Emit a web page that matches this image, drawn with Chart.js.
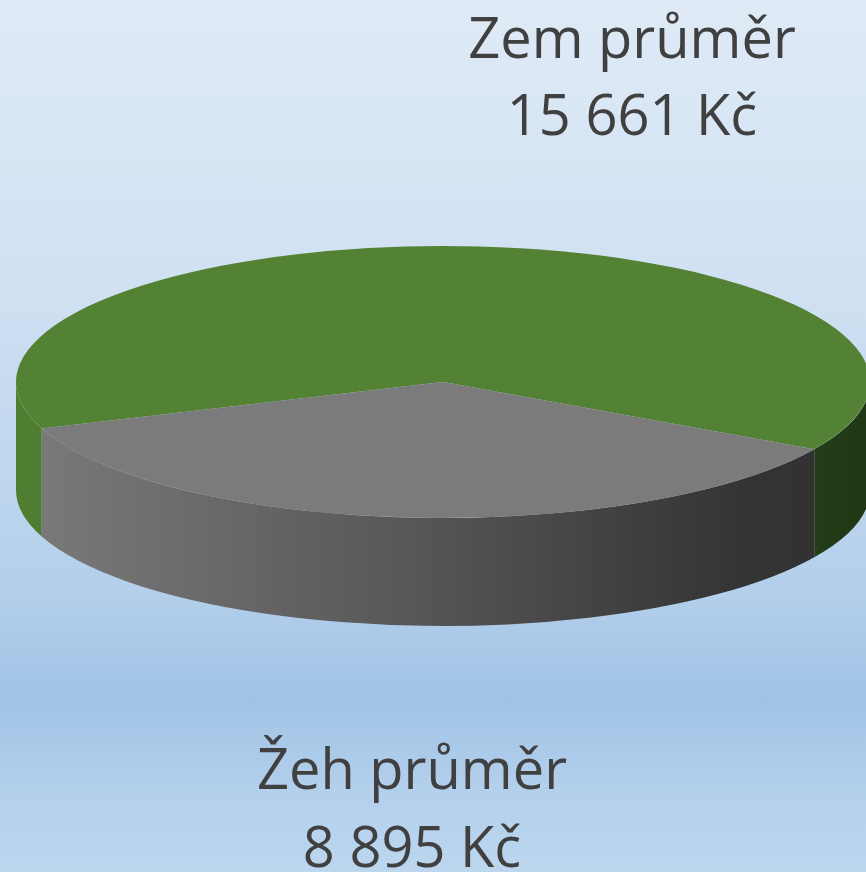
<!DOCTYPE html>
<html>
<head>
<meta charset="utf-8">
<script src="https://cdn.jsdelivr.net/npm/chart.js@4.4.1/dist/chart.umd.min.js"></script>
<style>
  html, body { margin: 0; padding: 0; }
  body {
    width: 866px; height: 872px; overflow: hidden;
    background: linear-gradient(to bottom, #dfeaf6 0%, #cfe0f2 35%, #b3cfeb 68%, #a0c3e5 80%, #b2cfec 90%, #bcd6ee 100%);
  }
  #wrap { position: relative; width: 866px; height: 872px; }
</style>
</head>
<body>
<div id="wrap"><canvas id="pie"></canvas></div>
<script>
const labels = ["Zem průměr", "Žeh průměr"];
const values = [15661, 8895];
const currency = "Kč";

const topColors = ["#548235", "#7b7b7b"];
const sideStops = [
  [[0, "#4f7e31"], [0.5, "#3b5e25"], [1, "#213715"]],
  [[0, "#7b7b7b"], [0.45, "#585858"], [0.85, "#343434"], [1, "#303030"]]
];

// where the tilted pie sits on the page
const tilt = { cx: 443, cy: 382, rx: 427, ry: 136, depth: 108 };
const labelPos = [
  { x: 632, y: 58, gap: 77 },
  { x: 412, y: 789, gap: 78 }
];

function fmt(v) {
  return String(v).replace(/\B(?=(\d{3})+(?!\d))/g, " ") + " " + currency;
}

const pie3d = {
  id: "pie3d",
  beforeDatasetsDraw(chart) {
    const ctx = chart.ctx;
    const arcs = chart.getDatasetMeta(0).data;
    const { cx, cy, rx, ry, depth } = tilt;

    // side walls, only the front half (angles 0..PI) shows
    arcs.forEach((arc, i) => {
      let s = arc.startAngle, e = arc.endAngle;
      const two = Math.PI * 2;
      while (s < 0) { s += two; e += two; }
      while (s >= two) { s -= two; e -= two; }
      const parts = [];
      [0, two].forEach(off => {
        const a = Math.max(s, off), b = Math.min(e, off + Math.PI);
        if (b > a) parts.push([a - off, b - off]);
      });
      const g = ctx.createLinearGradient(cx - rx, 0, cx + rx, 0);
      sideStops[i].forEach(st => g.addColorStop(st[0], st[1]));
      parts.forEach(([a, b]) => {
        ctx.beginPath();
        ctx.ellipse(cx, cy, rx, ry, 0, a, b);
        ctx.ellipse(cx, cy + depth, rx, ry, 0, b, a, true);
        ctx.closePath();
        ctx.fillStyle = g;
        ctx.fill();
      });
    });

    // squash the library's flat pie into the top face
    const a0 = arcs[0];
    ctx.save();
    ctx.translate(cx, cy);
    ctx.scale(rx / a0.outerRadius, ry / a0.outerRadius);
    ctx.translate(-a0.x, -a0.y);
  },
  afterDatasetsDraw(chart) {
    const ctx = chart.ctx;
    ctx.restore();
    ctx.save();
    ctx.fillStyle = "#404040";
    ctx.font = "56px 'Open Sans'";
    ctx.textAlign = "center";
    ctx.textBaseline = "alphabetic";
    labels.forEach((l, i) => {
      const p = labelPos[i];
      ctx.fillText(l, p.x, p.y);
      ctx.fillText(fmt(values[i]), p.x, p.y + p.gap);
    });
    ctx.restore();
  }
};

new Chart(document.getElementById("pie"), {
  type: "pie",
  data: {
    labels: labels,
    datasets: [{
      data: values,
      backgroundColor: topColors,
      borderWidth: 0
    }]
  },
  options: {
    responsive: true,
    maintainAspectRatio: false,
    animation: false,
    rotation: 250,
    layout: { padding: { left: 16, right: 0, top: 0, bottom: 22 } },
    events: [],
    plugins: {
      legend: { display: false },
      tooltip: { enabled: false }
    }
  },
  plugins: [pie3d]
});
</script>
</body>
</html>
